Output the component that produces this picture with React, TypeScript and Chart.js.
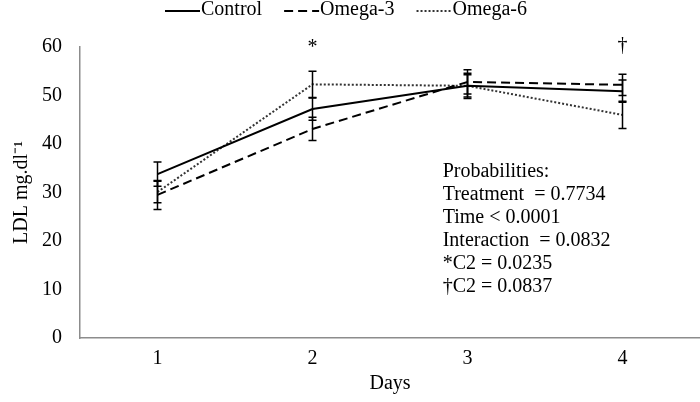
import React, { useEffect, useRef } from 'react';
import { Chart, registerables } from 'chart.js';

Chart.register(...registerables);

const days = ['1', '2', '3', '4'];
const controlMean = [33.8, 47.2, 52.0, 50.9];
const controlErr = [2.5, 2.3, 2.3, 2.3];
const omega3Mean = [29.5, 43.1, 52.8, 52.2];
const omega3Err = [3.0, 2.4, 2.5, 2.2];
const omega6Mean = [30.1, 52.3, 52.0, 46.0];
const omega6Err = [2.2, 2.7, 2.6, 2.8];
const yMin = 0;
const yMax = 60;
const yStep = 10;
const seriesNames = ['Control', 'Omega-3', 'Omega-6'];
const dayMarkers = ['', '*', '', '†'];
const probabilityLines = [
  'Probabilities:',
  'Treatment  = 0.7734',
  'Time < 0.0001',
  'Interaction  = 0.0832',
  '*C2 = 0.0235',
  '†C2 = 0.0837',
];

const FONT = '"Liberation Serif", "Times New Roman", serif';
const FS = 20;

const errorBarPlugin = {
  id: 'errorBars',
  afterDatasetsDraw(chart: any) {
    const { ctx, scales } = chart;
    const x = scales.x;
    const y = scales.y;
    ctx.save();
    ctx.strokeStyle = '#000';
    ctx.lineWidth = 1.5;
    ctx.setLineDash([]);
    chart.data.datasets.forEach((ds: any) => {
      ds.data.forEach((v: number, i: number) => {
        const e = ds.errors[i];
        const px = x.getPixelForValue(i);
        const top = y.getPixelForValue(v + e);
        const bot = y.getPixelForValue(v - e);
        ctx.beginPath();
        ctx.moveTo(px, top);
        ctx.lineTo(px, bot);
        ctx.moveTo(px - 4, top);
        ctx.lineTo(px + 4, top);
        ctx.moveTo(px - 4, bot);
        ctx.lineTo(px + 4, bot);
        ctx.stroke();
      });
    });
    ctx.restore();
  },
};

const legendPlugin = {
  id: 'customLegend',
  afterDraw(chart: any) {
    const { ctx } = chart;
    ctx.save();
    ctx.font = `${FS}px ${FONT}`;
    ctx.textBaseline = 'middle';
    ctx.fillStyle = '#000';
    let cx = 165;
    const cy = 10;
    chart.data.datasets.forEach((ds: any) => {
      ctx.strokeStyle = ds.borderColor;
      ctx.lineWidth = ds.borderWidth;
      ctx.setLineDash(ds.borderDash || []);
      ctx.beginPath();
      ctx.moveTo(cx, cy + 1);
      ctx.lineTo(cx + 35, cy + 1);
      ctx.stroke();
      cx += 36;
      ctx.fillText(ds.label, cx, cy);
      cx += ctx.measureText(ds.label).width + 22;
    });
    ctx.restore();
  },
};

const annotationPlugin = {
  id: 'probAnnotation',
  afterDraw(chart: any) {
    const { ctx, scales } = chart;
    const x = scales.x;
    const y = scales.y;
    ctx.save();
    ctx.font = `${FS}px ${FONT}`;
    ctx.fillStyle = '#000';
    ctx.textBaseline = 'middle';
    ctx.textAlign = 'left';
    const left = x.getPixelForValue(1.84);
    const top = y.getPixelForValue(34.2);
    probabilityLines.forEach((t, i) => {
      ctx.fillText(t, left, top + i * 23);
    });
    ctx.textAlign = 'center';
    dayMarkers.forEach((m, i) => {
      if (!m) return;
      ctx.fillText(m, x.getPixelForValue(i), y.getPixelForValue(m === '*' ? 59.8 : 60.2));
    });
    ctx.restore();
  },
};

export default function App() {
  const ref = useRef<HTMLCanvasElement>(null);
  useEffect(() => {
    document.body.style.margin = '0';
    const means = [controlMean, omega3Mean, omega6Mean];
    const errs = [controlErr, omega3Err, omega6Err];
    const dashes = [[], [9, 5], [2, 2]];
    const colors = ['#000000', '#000000', '#333333'];
    const chart = new Chart(ref.current as HTMLCanvasElement, {
      type: 'line',
      data: {
        labels: days,
        datasets: seriesNames.map((name, k) => ({
          label: name,
          data: means[k],
          errors: errs[k],
          borderColor: colors[k],
          backgroundColor: colors[k],
          borderWidth: 2,
          borderDash: dashes[k],
          pointRadius: 0,
          tension: 0,
          fill: false,
        })) as any,
      },
      options: {
        animation: false,
        responsive: false,
        maintainAspectRatio: false,
        layout: { padding: { top: 47, left: 0, right: 0, bottom: 0 } },
        plugins: {
          legend: { display: false },
          tooltip: { enabled: false },
        },
        scales: {
          x: {
            type: 'category',
            offset: true,
            grid: { display: false, drawTicks: false },
            border: { display: true, color: '#8c8c8c', width: 1.5 },
            ticks: { color: '#000', font: { family: FONT, size: FS }, padding: 9 },
            title: {
              display: true,
              text: 'Days',
              color: '#000',
              font: { family: FONT, size: FS },
              padding: { top: 0, bottom: 6 },
            },
            afterFit: (s: any) => {
              s.height = 64;
            },
          },
          y: {
            min: yMin,
            max: yMax,
            grid: { display: false, drawTicks: false },
            border: { display: true, color: '#8c8c8c', width: 1.5 },
            ticks: {
              stepSize: yStep,
              color: '#000',
              font: { family: FONT, size: FS },
              padding: 18,
            },
            title: {
              display: true,
              text: 'LDL mg.dl⁻¹',
              color: '#000',
              font: { family: FONT, size: FS },
              padding: { top: 10, bottom: 0 },
            },
            afterFit: (s: any) => {
              s.width = 80;
            },
          },
        },
      } as any,
      plugins: [errorBarPlugin, legendPlugin, annotationPlugin],
    });
    return () => chart.destroy();
  }, []);
  return (
    <div style={{ width: 700, height: 402 }}>
      <canvas ref={ref} width={700} height={402} style={{ display: 'block' }} />
    </div>
  );
}
